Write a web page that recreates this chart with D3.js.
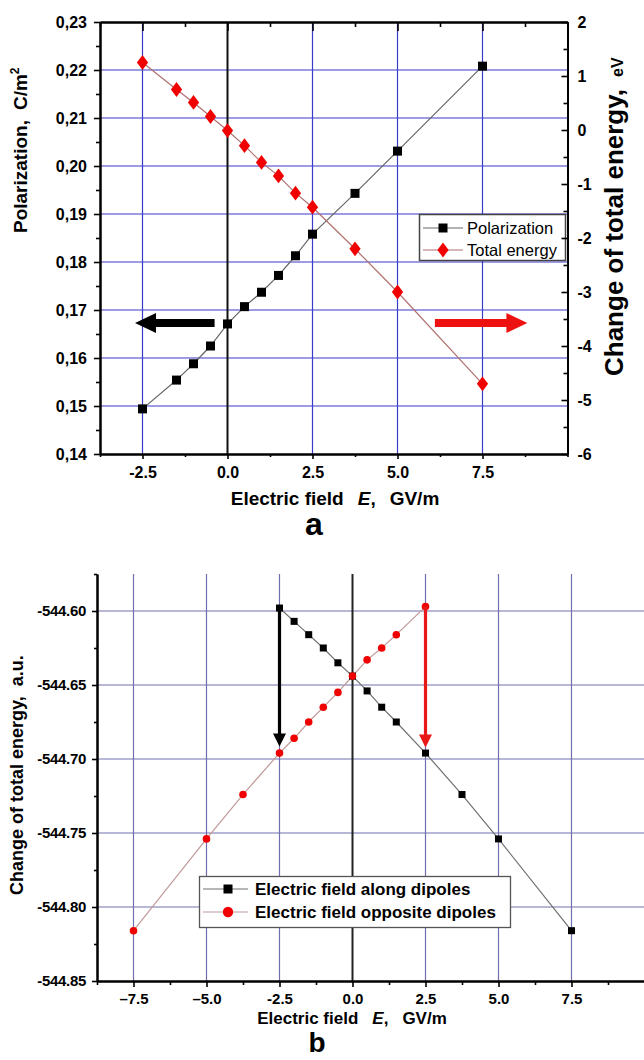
<!DOCTYPE html>
<html>
<head>
<meta charset="utf-8">
<script src="https://cdn.jsdelivr.net/npm/d3@7"></script>
<style>
html,body{margin:0;padding:0;background:#fff;}
svg{display:block;font-family:"Liberation Sans",Arial,sans-serif;}
</style>
</head>
<body>
<svg id="chart" width="644" height="1060"></svg>
<script>
// ---------- Data: panel a ----------
const fieldA = [-2.5, -1.5, -1.0, -0.5, 0, 0.5, 1.0, 1.5, 2.0, 2.5, 3.75, 5.0, 7.5];
const polarization = [0.1494, 0.1554, 0.1588, 0.1625, 0.1671, 0.1707, 0.1737, 0.1772, 0.1813, 0.1858, 0.1943, 0.2031, 0.2208];
const totalEnergyA = [1.25, 0.75, 0.51, 0.25, -0.01, -0.29, -0.60, -0.85, -1.17, -1.43, -2.20, -3.00, -4.70];
const xTicksA = [-2.5, 0, 2.5, 5, 7.5];
const xTickLabelsA = ["-2.5", "0.0", "2.5", "5.0", "7.5"];
const xMinorA = [-3.75, -1.25, 1.25, 3.75, 6.25, 8.75, 10];
const yTicksA = [0.14, 0.15, 0.16, 0.17, 0.18, 0.19, 0.20, 0.21, 0.22, 0.23];
const yTickLabelsA = ["0,14", "0,15", "0,16", "0,17", "0,18", "0,19", "0,20", "0,21", "0,22", "0,23"];
const yMinorA = [0.145, 0.155, 0.165, 0.175, 0.185, 0.195, 0.205, 0.215, 0.225];
const yRTicksA = [-6, -5, -4, -3, -2, -1, 0, 1, 2];
const yRTickLabelsA = ["-6", "-5", "-4", "-3", "-2", "-1", "0", "1", "2"];
const yRMinorA = [-5.5, -4.5, -3.5, -2.5, -1.5, -0.5, 0.5, 1.5];
const legendA = ["Polarization", "Total energy"];

// ---------- Data: panel b ----------
const fieldAlong = [-2.5, -2.0, -1.5, -1.0, -0.5, 0, 0.5, 1.0, 1.5, 2.5, 3.75, 5.0, 7.5];
const energyAlong = [-544.598, -544.607, -544.616, -544.625, -544.635, -544.644, -544.654, -544.665, -544.675, -544.696, -544.724, -544.754, -544.816];
const fieldOpposite = [-7.5, -5.0, -3.75, -2.5, -2.0, -1.5, -1.0, -0.5, 0, 0.5, 1.0, 1.5, 2.5];
const energyOpposite = [-544.816, -544.754, -544.724, -544.696, -544.686, -544.675, -544.665, -544.655, -544.644, -544.633, -544.625, -544.616, -544.597];
const xTicksB = [-7.5, -5, -2.5, 0, 2.5, 5, 7.5];
const xTickLabelsB = ["\u20137.5", "\u20135.0", "-2.5", "0.0", "2.5", "5.0", "7.5"];
const xMinorB = [-8.75, -6.25, -3.75, -1.25, 1.25, 3.75, 6.25, 8.75, 10];
const yTicksB = [-544.85, -544.80, -544.75, -544.70, -544.65, -544.60];
const yTickLabelsB = ["-544.85", "-544.80", "-544.75", "-544.70", "-544.65", "-544.60"];
const yMinorB = [-544.825, -544.775, -544.725, -544.675, -544.625, -544.575];
const legendB = ["Electric field along dipoles", "Electric field opposite dipoles"];

const svg = d3.select("#chart");
const FONT = "'Liberation Sans', Arial, sans-serif";

// =====================================================
// Panel a
// =====================================================
const xA = d3.scaleLinear().domain([-3.75, 10]).range([100, 567.5]);
const yL = d3.scaleLinear().domain([0.14, 0.23]).range([454, 22]);
const yR = d3.scaleLinear().domain([-6, 2]).range([454, 22]);
const gA = svg.append("g");

// grid
const gridA = "#3a3acb";
gA.selectAll(".hgA").data(yTicksA.filter(v => v > 0.14 && v < 0.23)).enter().append("line")
  .attr("x1", xA(-3.75)).attr("x2", xA(10))
  .attr("y1", d => yL(d)).attr("y2", d => yL(d))
  .attr("stroke", gridA).attr("stroke-width", 1.2);
gA.selectAll(".vgA").data(xTicksA.filter(v => v !== 0)).enter().append("line")
  .attr("x1", d => xA(d)).attr("x2", d => xA(d))
  .attr("y1", yL(0.14)).attr("y2", yL(0.23))
  .attr("stroke", gridA).attr("stroke-width", 1.2);
gA.append("line").attr("x1", xA(0)).attr("x2", xA(0)).attr("y1", yL(0.14)).attr("y2", yL(0.23))
  .attr("stroke", "#111").attr("stroke-width", 2);

// lines
const polPts = fieldA.map((e, i) => [e, polarization[i]]);
const enPts = fieldA.map((e, i) => [e, totalEnergyA[i]]);
gA.append("path").datum(polPts)
  .attr("d", d3.line().x(d => xA(d[0])).y(d => yL(d[1])))
  .attr("fill", "none").attr("stroke", "#666").attr("stroke-width", 1.2);
gA.append("path").datum(enPts)
  .attr("d", d3.line().x(d => xA(d[0])).y(d => yR(d[1])))
  .attr("fill", "none").attr("stroke", "#b07070").attr("stroke-width", 1.2);

// markers
const sqA = 9;
gA.selectAll(".pm").data(polPts).enter().append("rect")
  .attr("x", d => xA(d[0]) - sqA / 2).attr("y", d => yL(d[1]) - sqA / 2)
  .attr("width", sqA).attr("height", sqA).attr("fill", "#000");
const diamond = d3.symbol().type(d3.symbolDiamond).size(70);
gA.selectAll(".em").data(enPts).enter().append("path")
  .attr("d", diamond)
  .attr("transform", d => `translate(${xA(d[0])},${yR(d[1])}) scale(1.25,0.95)`)
  .attr("fill", "#f00000");

// arrows (panel a)
function hArrow(g, x0, x1, y, color, shaftH, headH, headL) {
  const dir = Math.sign(x1 - x0);
  const xh = x1 - dir * headL;
  g.append("path")
    .attr("d", `M${x0},${y - shaftH / 2} L${xh},${y - shaftH / 2} L${xh},${y - headH / 2} L${x1},${y} L${xh},${y + headH / 2} L${xh},${y + shaftH / 2} L${x0},${y + shaftH / 2} Z`)
    .attr("fill", color);
}
hArrow(gA, xA(-0.38), xA(-2.72), yL(0.1673), "#000", 8, 20, 21);
hArrow(gA, xA(6.1), xA(8.82), yL(0.1673), "#ee1111", 8, 20, 21);

// legend a
const lgA = gA.append("g");
lgA.append("rect").attr("x", 419.5).attr("y", 214.5).attr("width", 146).attr("height", 46)
  .attr("fill", "#fff").attr("stroke", "#444").attr("stroke-width", 1.5);
const rowsA = [228, 250];
lgA.append("line").attr("x1", 423).attr("x2", 463).attr("y1", rowsA[0]).attr("y2", rowsA[0]).attr("stroke", "#666").attr("stroke-width", 1.2);
lgA.append("rect").attr("x", 443 - 4.5).attr("y", rowsA[0] - 4.5).attr("width", 9).attr("height", 9).attr("fill", "#000");
lgA.append("line").attr("x1", 423).attr("x2", 463).attr("y1", rowsA[1]).attr("y2", rowsA[1]).attr("stroke", "#b07070").attr("stroke-width", 1.2);
lgA.append("path").attr("d", diamond).attr("transform", `translate(443,${rowsA[1]}) scale(1.25,0.95)`).attr("fill", "#f00000");
lgA.selectAll(".lt").data(legendA).enter().append("text")
  .attr("x", 467).attr("y", (d, i) => rowsA[i] + 6)
  .attr("font-size", 16.5).attr("font-family", FONT).attr("fill", "#000")
  .text(d => d);

// axes a
function styleAxis(g, fs, bold) {
  g.select(".domain").attr("stroke", "#000").attr("stroke-width", 2);
  g.selectAll(".tick line").attr("stroke", "#000").attr("stroke-width", 1.6);
  g.selectAll(".tick text").attr("font-size", fs).attr("font-family", FONT)
    .attr("font-weight", bold ? "bold" : "normal").attr("fill", "#000");
}
// left
const axL = gA.append("g").attr("transform", `translate(${xA(-3.75)},0)`)
  .call(d3.axisLeft(yL).tickValues(yTicksA).tickFormat((d, i) => yTickLabelsA[i]).tickSize(6).tickSizeOuter(0).tickPadding(7));
styleAxis(axL, 16, true);
const axLm = gA.append("g").attr("transform", `translate(${xA(-3.75)},0)`)
  .call(d3.axisLeft(yL).tickValues(yMinorA).tickFormat("").tickSize(4).tickSizeOuter(0));
styleAxis(axLm, 16, true);
// right
const axR = gA.append("g").attr("transform", `translate(${xA(10)},0)`)
  .call(d3.axisRight(yR).tickValues(yRTicksA).tickFormat((d, i) => yRTickLabelsA[i]).tickSize(-6).tickSizeOuter(0).tickPadding(10));
styleAxis(axR, 16, true);
const axRm = gA.append("g").attr("transform", `translate(${xA(10)},0)`)
  .call(d3.axisRight(yR).tickValues(yRMinorA).tickFormat("").tickSize(-4).tickSizeOuter(0));
styleAxis(axRm, 16, true);
// bottom
const axB = gA.append("g").attr("transform", `translate(0,${yL(0.14)})`)
  .call(d3.axisBottom(xA).tickValues(xTicksA).tickFormat((d, i) => xTickLabelsA[i]).tickSize(5).tickSizeOuter(0).tickPadding(8));
styleAxis(axB, 16, true);
const axBm = gA.append("g").attr("transform", `translate(0,${yL(0.14)})`)
  .call(d3.axisBottom(xA).tickValues(xMinorA).tickFormat("").tickSize(3).tickSizeOuter(0));
styleAxis(axBm, 16, true);
// top
const axT = gA.append("g").attr("transform", `translate(0,${yL(0.23)})`)
  .call(d3.axisTop(xA).tickValues(xTicksA).tickFormat("").tickSize(-9).tickSizeOuter(0));
styleAxis(axT, 16, true);
const axTm = gA.append("g").attr("transform", `translate(0,${yL(0.23)})`)
  .call(d3.axisTop(xA).tickValues(xMinorA).tickFormat("").tickSize(-5).tickSizeOuter(0));
styleAxis(axTm, 16, true);

// titles a
const tL = gA.append("text").attr("transform", "translate(27,233) rotate(-90)")
  .attr("font-family", FONT).attr("font-weight", "bold").attr("font-size", 19).attr("fill", "#000");
tL.append("tspan").text("Polarization,");
tL.append("tspan").attr("dx", 10).text("C/m");
tL.append("tspan").attr("font-size", 12).attr("dy", -8).text("2");

const tR = gA.append("text").attr("transform", "translate(623,376) rotate(-90)")
  .attr("font-family", FONT).attr("font-weight", "bold").attr("font-size", 26).attr("fill", "#000");
tR.append("tspan").text("Change of total energy,");
tR.append("tspan").attr("dx", 12).attr("font-size", 16).text("eV");

const tX = gA.append("text").attr("x", 335).attr("y", 505).attr("text-anchor", "middle")
  .attr("font-family", FONT).attr("font-weight", "bold").attr("font-size", 19).attr("fill", "#000");
tX.append("tspan").text("Electric field");
tX.append("tspan").attr("dx", 14).attr("font-style", "italic").text("E");
tX.append("tspan").text(",");
tX.append("tspan").attr("dx", 14).text("GV/m");

gA.append("text").attr("x", 314).attr("y", 535).attr("text-anchor", "middle")
  .attr("font-family", FONT).attr("font-weight", "bold").attr("font-size", 32).text("a");

// =====================================================
// Panel b
// =====================================================
const xB = d3.scaleLinear().domain([-8.75, 10]).range([97, 644.5]);
const yB = d3.scaleLinear().domain([-544.85, -544.575]).range([981, 574]);
const gB = svg.append("g");
const gridB = "#7070b0";

gB.selectAll(".hgB").data(yTicksB.filter(v => v > -544.85)).enter().append("line")
  .attr("x1", xB(-8.75)).attr("x2", xB(10))
  .attr("y1", d => yB(d)).attr("y2", d => yB(d))
  .attr("stroke", gridB).attr("stroke-width", 1.2);
gB.selectAll(".vgB").data(xTicksB.filter(v => v !== 0)).enter().append("line")
  .attr("x1", d => xB(d)).attr("x2", d => xB(d))
  .attr("y1", yB(-544.85)).attr("y2", yB(-544.575))
  .attr("stroke", gridB).attr("stroke-width", 1.2);
gB.append("line").attr("x1", xB(0)).attr("x2", xB(0)).attr("y1", yB(-544.85)).attr("y2", yB(-544.575))
  .attr("stroke", "#222").attr("stroke-width", 2);

const alongPts = fieldAlong.map((e, i) => [e, energyAlong[i]]);
const oppPts = fieldOpposite.map((e, i) => [e, energyOpposite[i]]);
const lineB = d3.line().x(d => xB(d[0])).y(d => yB(d[1]));
gB.append("path").datum(alongPts).attr("d", lineB)
  .attr("fill", "none").attr("stroke", "#707070").attr("stroke-width", 1.2);
gB.append("path").datum(oppPts).attr("d", lineB)
  .attr("fill", "none").attr("stroke", "#c09a9a").attr("stroke-width", 1.2);

const sqB = 7;
gB.selectAll(".am").data(alongPts).enter().append("rect")
  .attr("x", d => xB(d[0]) - sqB / 2).attr("y", d => yB(d[1]) - sqB / 2)
  .attr("width", sqB).attr("height", sqB).attr("fill", "#000");
gB.selectAll(".om").data(oppPts).enter().append("circle")
  .attr("cx", d => xB(d[0])).attr("cy", d => yB(d[1])).attr("r", 3.8)
  .attr("fill", "#f00000");

// vertical arrows
function vArrow(g, x, y0, y1, color, shaftW, headW, headL) {
  const yh = y1 - headL;
  g.append("path")
    .attr("d", `M${x - shaftW / 2},${y0} L${x + shaftW / 2},${y0} L${x + shaftW / 2},${yh} L${x + headW / 2},${yh} L${x},${y1} L${x - headW / 2},${yh} L${x - shaftW / 2},${yh} Z`)
    .attr("fill", color);
}
vArrow(gB, xB(-2.5), yB(-544.598), yB(-544.6915), "#000", 3.2, 13, 13);
vArrow(gB, xB(2.5), yB(-544.597), yB(-544.6922), "#e81818", 3.2, 13, 13);

// legend b
const lgB = gB.append("g");
lgB.append("rect").attr("x", 199.5).attr("y", 876.5).attr("width", 311).attr("height", 51)
  .attr("fill", "#fff").attr("stroke", "#555").attr("stroke-width", 1.3);
const rowsB = [889, 912];
lgB.append("line").attr("x1", 203).attr("x2", 248).attr("y1", rowsB[0]).attr("y2", rowsB[0]).attr("stroke", "#707070").attr("stroke-width", 1.2);
lgB.append("rect").attr("x", 228 - 4.5).attr("y", rowsB[0] - 4.5).attr("width", 9).attr("height", 9).attr("fill", "#000");
lgB.append("line").attr("x1", 203).attr("x2", 248).attr("y1", rowsB[1]).attr("y2", rowsB[1]).attr("stroke", "#c09a9a").attr("stroke-width", 1.2);
lgB.append("circle").attr("cx", 228).attr("cy", rowsB[1]).attr("r", 5.2).attr("fill", "#f00000");
lgB.selectAll(".lt").data(legendB).enter().append("text")
  .attr("x", 255).attr("y", (d, i) => rowsB[i] + 6)
  .attr("font-size", 17).attr("font-weight", "bold").attr("font-family", FONT).attr("fill", "#000")
  .text(d => d);

// axes b
const bL = gB.append("g").attr("transform", `translate(${xB(-8.75)},0)`)
  .call(d3.axisLeft(yB).tickValues(yTicksB).tickFormat((d, i) => yTickLabelsB[i]).tickSize(5).tickSizeOuter(0).tickPadding(6));
styleAxis(bL, 15, true);
bL.selectAll(".tick text").attr("letter-spacing", -0.3);
const bLm = gB.append("g").attr("transform", `translate(${xB(-8.75)},0)`)
  .call(d3.axisLeft(yB).tickValues(yMinorB).tickFormat("").tickSize(3).tickSizeOuter(0));
styleAxis(bLm, 15, true);
const bB = gB.append("g").attr("transform", `translate(0,${yB(-544.85)})`)
  .call(d3.axisBottom(xB).tickValues(xTicksB).tickFormat((d, i) => xTickLabelsB[i]).tickSize(6).tickSizeOuter(0).tickPadding(6));
styleAxis(bB, 15, true);
const bBm = gB.append("g").attr("transform", `translate(0,${yB(-544.85)})`)
  .call(d3.axisBottom(xB).tickValues(xMinorB).tickFormat("").tickSize(4).tickSizeOuter(0));
styleAxis(bBm, 15, true);

// titles b
const tLB = gB.append("text").attr("transform", "translate(23,895) rotate(-90)")
  .attr("font-family", FONT).attr("font-weight", "bold").attr("font-size", 18).attr("fill", "#000");
tLB.append("tspan").text("Change of total energy,");
tLB.append("tspan").attr("dx", 10).text("a.u.");

const tXB = gB.append("text").attr("x", 352).attr("y", 1024).attr("text-anchor", "middle")
  .attr("font-family", FONT).attr("font-weight", "bold").attr("font-size", 17).attr("fill", "#000");
tXB.append("tspan").text("Electric field");
tXB.append("tspan").attr("dx", 14).attr("font-style", "italic").text("E");
tXB.append("tspan").text(",");
tXB.append("tspan").attr("dx", 14).text("GV/m");

gB.append("text").attr("x", 317).attr("y", 1052).attr("text-anchor", "middle")
  .attr("font-family", FONT).attr("font-weight", "bold").attr("font-size", 28).text("b");
</script>
</body>
</html>
